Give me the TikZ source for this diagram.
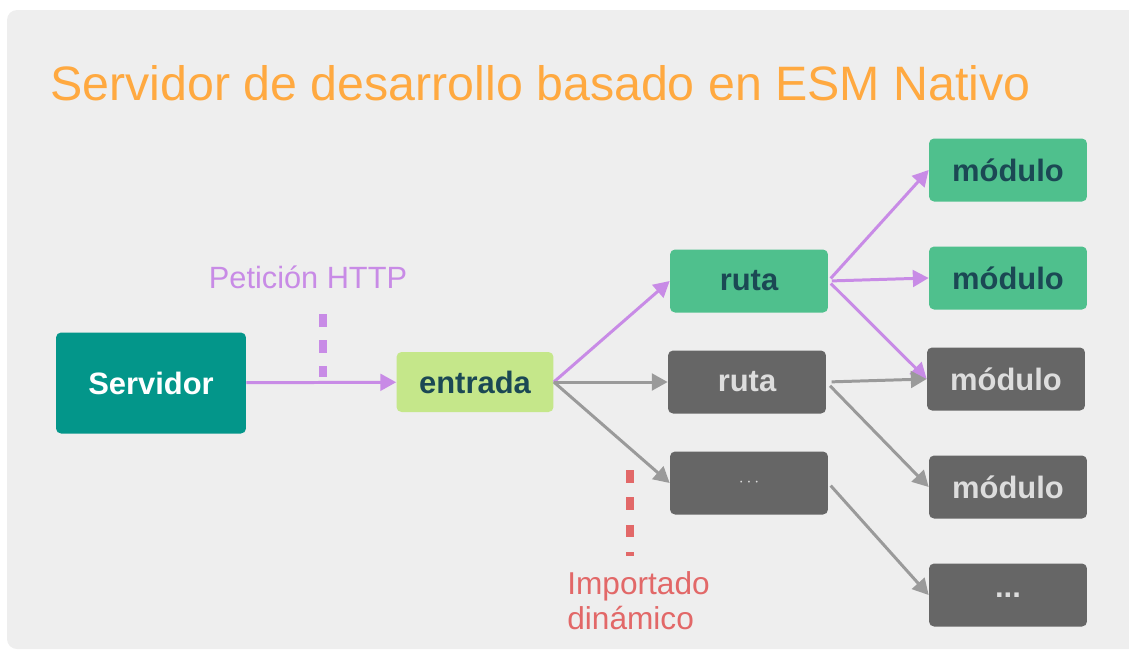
\documentclass[tikz,border=0pt]{standalone}
\usepackage{fontspec}
\setmainfont{Liberation Sans}
\usetikzlibrary{arrows.meta}

\definecolor{panelgray}{HTML}{EEEEEE}
\definecolor{titleorange}{HTML}{FFA940}
\definecolor{reqpurple}{HTML}{C88BE6}
\definecolor{servteal}{HTML}{03968A}
\definecolor{entrygreen}{HTML}{C5E78A}
\definecolor{modgreen}{HTML}{4FC08D}
\definecolor{darktext}{HTML}{1B4854}
\definecolor{boxgray}{HTML}{666666}
\definecolor{lightgray}{HTML}{DDDDDD}
\definecolor{arrowgray}{HTML}{9A9A9A}
\definecolor{dynred}{HTML}{E26868}

\begin{document}
\begin{tikzpicture}[x=0.02cm, y=-0.02cm,
    box/.style={rounded corners=0.1cm, minimum width=3.16cm, minimum height=1.26cm,
                inner sep=0pt, font=\fontsize{17.6}{20}\selectfont\bfseries},
    livebox/.style={box, fill=modgreen, text=darktext},
    idlebox/.style={box, fill=boxgray, text=lightgray},
    reqarrow/.style={draw=reqpurple, line width=1.7pt,
                     -{Triangle[length=9pt, width=9.5pt]}, fill=reqpurple},
    idlearrow/.style={draw=arrowgray, line width=1.7pt,
                      -{Triangle[length=9pt, width=9.5pt]}, fill=arrowgray}]
    \useasboundingbox (0,0) rectangle (1129,650);

    % Panel
    \fill[panelgray, rounded corners=0.2cm] (7,10) rectangle (1160,649);

    % Title
    \node[anchor=base west, inner sep=0pt, text=titleorange,
          font=\fontsize{27.5}{32}\selectfont] (title) at (50,100)
        {Servidor de desarrollo basado en ESM Nativo};

    % Server and entry
    \node[box, fill=servteal, text=white, minimum width=3.8cm, minimum height=2.02cm]
        (servidor) at (151,383) {Servidor};
    \node[box, fill=entrygreen, text=darktext, minimum width=3.14cm, minimum height=1.2cm]
        (entrada) at (475,382) {entrada};

    % Routes
    \node[livebox] (ruta1) at (749,281) {ruta};
    \node[idlebox] (ruta2) at (747,382) {ruta};
    \node[idlebox, font=\normalsize] (ruta3) at (749,483) {$\cdots$};

    % Modules
    \node[livebox] (mod1) at (1008,170) {módulo};
    \node[livebox] (mod2) at (1008,278) {módulo};
    \node[idlebox] (mod3) at (1006,379) {módulo};
    \node[idlebox] (mod4) at (1008,487) {módulo};
    \node[idlebox] (mod5) at (1008,595) {...};

    % HTTP request
    \draw[reqarrow] (servidor) -- (entrada);
    \node[anchor=base, inner sep=0pt, text=reqpurple,
          font=\fontsize{17.5}{20}\selectfont] (peticion) at (308,288) {Petición HTTP};
    \coordinate (reqtop) at (323,314);
    \coordinate (reqbot) at (323,377);
    \draw[reqpurple, line width=4pt, dash pattern=on 7.4pt off 7.4pt] (reqtop) -- (reqbot);

    % Entry to routes
    \draw[reqarrow] (entrada.east) -- (ruta1.west);
    \draw[idlearrow] (entrada.east) -- (ruta2.west);
    \draw[idlearrow] (entrada.east) -- (ruta3.west);

    % Routes to modules
    \draw[reqarrow, shorten <=2pt] (ruta1.east) -- (mod1.west);
    \draw[reqarrow, shorten <=2pt] (ruta1.east) -- (mod2.west);
    \draw[reqarrow, shorten <=2pt] (ruta1.east) -- (mod3.west);
    \draw[idlearrow, shorten <=3pt] (ruta2.east) -- (mod3.west);
    \draw[idlearrow, shorten <=3pt] (ruta2.east) -- (mod4.west);
    \draw[idlearrow, shorten <=2pt] (ruta3.east) -- (mod5.west);

    % Dynamic import
    \coordinate (dyntop) at (630,470);
    \coordinate (dynbot) at (630,556);
    \draw[dynred, line width=4pt, dash pattern=on 7.2pt off 8.4pt] (dyntop) -- (dynbot);
    \node[anchor=north west, inner sep=0pt, align=left, text=dynred,
          font=\fontsize{18}{19.8}\selectfont] (dinamico) at (567,571)
        {Importado\\dinámico};
\end{tikzpicture}
\end{document}
